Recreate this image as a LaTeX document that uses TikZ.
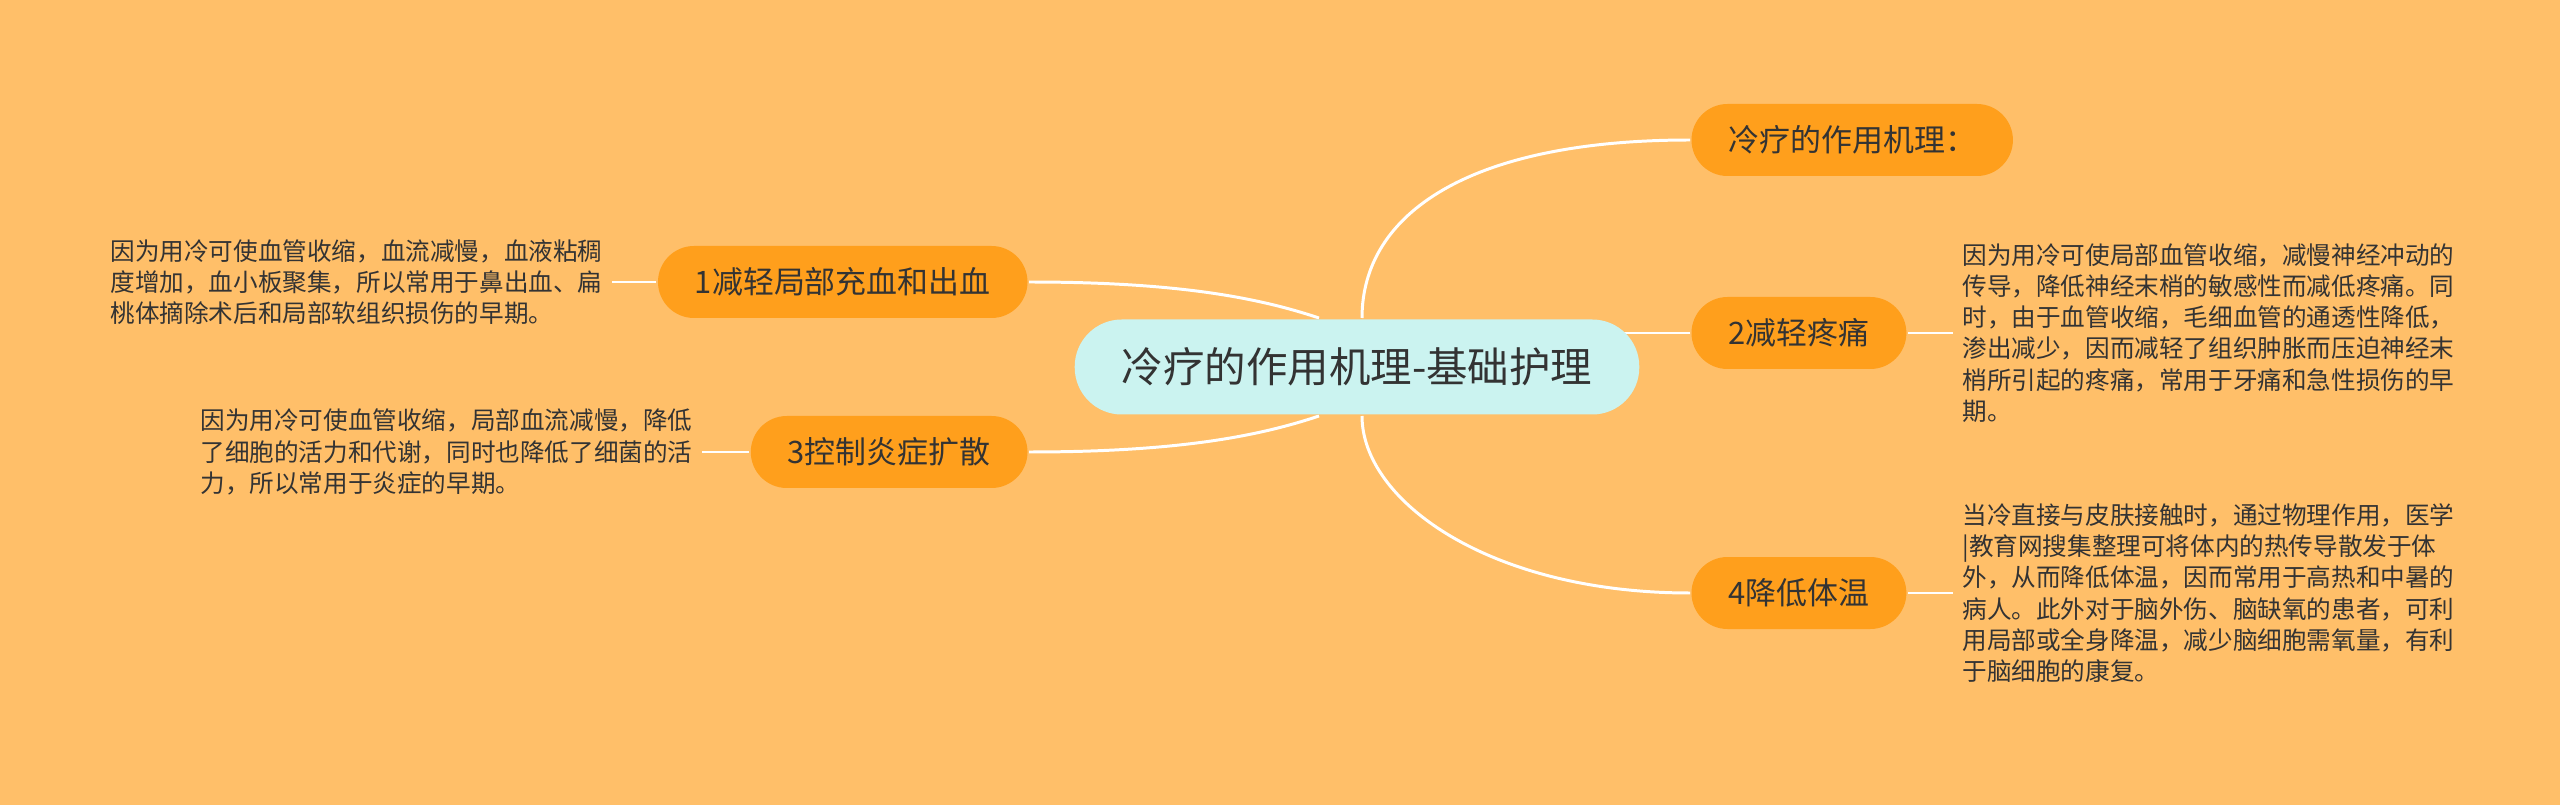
\documentclass[tikz,border=0pt]{standalone}
\usepackage{fontspec}
\setmainfont{Noto Sans CJK SC}
\usepackage{tikz}
\usetikzlibrary{backgrounds}
\usetikzlibrary{calc}
\definecolor{bgorange}{HTML}{FFBF69}
\definecolor{branchorange}{HTML}{FF9F1C}
\definecolor{rootcyan}{HTML}{CBF3F0}
\definecolor{inkgray}{HTML}{333333}
\pgfdeclarelayer{links}
\pgfsetlayers{background,links,main}
\tikzset{every picture/.style={line width=0.85pt,show background rectangle,inner frame sep=0pt},background rectangle/.style={fill=bgorange}}
\tikzset{rootbox/.style={fill=rootcyan,text=inkgray,rounded corners=0.47cm,minimum height=0.95cm,inner xsep=0.47cm,font=\fontsize{11.8}{14}\selectfont},
branchbox/.style={fill=branchorange,text=inkgray,rounded corners=0.36cm,minimum height=0.72cm,inner xsep=0.37cm,font=\fontsize{8.8}{10.5}\selectfont},
notetext/.style={text=inkgray,align=left,inner sep=0.08cm,font=\fontsize{7}{8.9}\selectfont},
link/.style={draw=white,line width=0.85pt}}
\begin{document}
\begin{tikzpicture}
\useasboundingbox (0,0) rectangle (25.6,8.05);
\node (root) at (13.57,4.38) [rootbox] {冷疗的作用机理-基础护理};
\node (b0) at (16.90,6.65) [branchbox,anchor=west] {冷疗的作用机理：};
\node (b2) at (16.90,4.72) [branchbox,anchor=west] {2减轻疼痛};
\node (b4) at (16.90,2.12) [branchbox,anchor=west] {4降低体温};
\node (b1) at (10.29,5.23) [branchbox,anchor=east] {1减轻局部充血和出血};
\node (b3) at (10.29,3.53) [branchbox,anchor=east] {3控制炎症扩散};

\node (n1) at (6.12,5.23) [notetext,anchor=east] {因为用冷可使血管收缩，血流减慢，血液粘稠\\度增加，血小板聚集，所以常用于鼻出血、扁\\桃体摘除术后和局部软组织损伤的早期。};
\node (n3) at (7.02,3.53) [notetext,anchor=east] {因为用冷可使血管收缩，局部血流减慢，降低\\了细胞的活力和代谢，同时也降低了细菌的活\\力，所以常用于炎症的早期。};
\node (n2) at (19.53,4.72) [notetext,anchor=west] {因为用冷可使局部血管收缩，减慢神经冲动的\\传导，降低神经末梢的敏感性而减低疼痛。同\\时，由于血管收缩，毛细血管的通透性降低，\\渗出减少，因而减轻了组织肿胀而压迫神经末\\梢所引起的疼痛，常用于牙痛和急性损伤的早\\期。};
\node (n4) at (19.53,2.12) [notetext,anchor=west] {当冷直接与皮肤接触时，通过物理作用，医学\\|教育网搜集整理可将体内的热传导散发于体\\外，从而降低体温，因而常用于高热和中暑的\\病人。此外对于脑外伤、脑缺氧的患者，可利\\用局部或全身降温，减少脑细胞需氧量，有利\\于脑细胞的康复。};

\begin{pgfonlayer}{links}
\draw [link] ($(root.north)+(0.05,0)$) .. controls +(0,1.05) and +(-2.2,0) .. (b0.west);
\draw [link] (b2.west) -- (b2.west -| root.center);
\draw [link] ($(root.south)+(0.05,0)$) .. controls +(0,-0.85) and +(-2.0,0) .. (b4.west);
\draw [link] ($(root.north)+(-0.38,0)$) .. controls +(-0.6,0.2) and +(1.5,0) .. (b1.east);
\draw [link] ($(root.south)+(-0.38,0)$) .. controls +(-0.6,-0.2) and +(1.5,0) .. (b3.east);
\draw [link] (n1.east) -- (b1.west);
\draw [link] (n3.east) -- (b3.west);
\draw [link] (b2.east) -- (n2.west);
\draw [link] (b4.east) -- (n4.west);
\end{pgfonlayer}
\end{tikzpicture}
\end{document}
